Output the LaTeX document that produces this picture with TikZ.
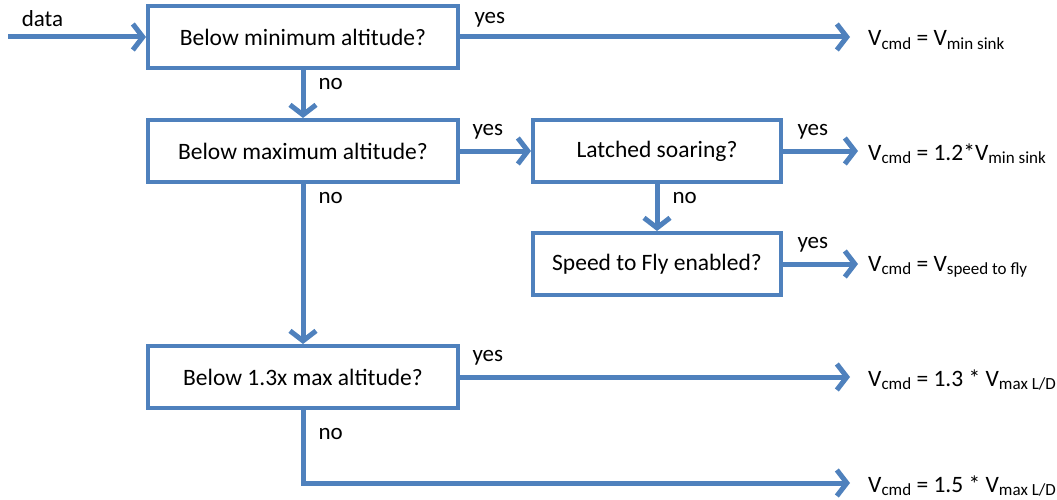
\documentclass[tikz,border=0pt]{standalone}
\usepackage{fontspec}
\setmainfont{Carlito}
\usetikzlibrary{arrows.meta,positioning}
\definecolor{flowblue}{RGB}{79,129,189}
\newcommand{\sbs}[1]{\raisebox{-0.3ex}{\fontsize{17}{20}\selectfont #1}}

\begin{document}
\begin{tikzpicture}[x=1pt,y=-1pt,
    box/.style={draw=flowblue,line width=4pt,minimum width=310pt,minimum height=62pt,inner sep=0pt,font=\fontsize{23.5}{28}\selectfont},
    smallbox/.style={box,minimum width=248pt},
    result/.style={anchor=west,inner sep=0pt,font=\fontsize{23.5}{28}\selectfont},
    lbl/.style={font=\fontsize{23}{28}\selectfont,inner sep=0pt},
    flow/.style={draw=flowblue,line width=5pt,-{Straight Barb[length=10pt,width=26pt]}}]
    \useasboundingbox (0,0) rectangle (1057,500);

    \node[box] (1) at (303,37) {Below minimum altitude?};
    \node[box] (2) at (303,151) {Below maximum altitude?};
    \node[smallbox] (3) at (657,151) {Latched soaring?};
    \node[smallbox] (4) at (657,264) {Speed to Fly enabled?};
    \node[box] (5) at (303,377) {Below 1.3x max altitude?};

    \coordinate (0) at (8,37);
    \node[result] (6) at (868,40) {V\sbs{cmd} = V\sbs{min sink}};
    \node[result] (7) at (868,154) {V\sbs{cmd} = 1.2*V\sbs{min sink}};
    \node[result] (8) at (868,267) {V\sbs{cmd} = V\sbs{speed to fly}};
    \node[result] (9) at (868,380) {V\sbs{cmd} = 1.3 * V\sbs{max L/D}};
    \node[result] (10) at (868,486) {V\sbs{cmd} = 1.5 * V\sbs{max L/D}};

    \path[every node/.style={lbl}]
    (0) edge[flow] node[pos=0.25,above=8pt] {data} (1)
    (1) edge[flow] node[pos=0,above right=7pt and 12pt] {yes} ([xshift=-18pt]6.west |- 1.east)
    (1) edge[flow] node[pos=0,below right=6pt and 13pt] {no} (2)
    (2) edge[flow] node[pos=0,above right=9pt and 10pt] {yes} (3)
    (3) edge[flow] node[pos=0,above right=9pt and 12pt] {yes} ([xshift=-10pt]7.west |- 3.east)
    (3) edge[flow] node[pos=0,below right=6pt and 13pt] {no} (4)
    (4) edge[flow] node[pos=0,above right=9pt and 12pt] {yes} ([xshift=-10pt]8.west |- 4.east)
    (2) edge[flow] node[pos=0,below right=6pt and 13pt] {no} (5)
    (5) edge[flow] node[pos=0,above right=9pt and 10pt] {yes} ([xshift=-18pt]9.west |- 5.east);

    \draw[flow] (5.south) |- ([xshift=-18pt]10.west |- 0,483)
      node[lbl,pos=0,below right=16pt and 13pt] {no};
  \end{tikzpicture}
\end{document}
